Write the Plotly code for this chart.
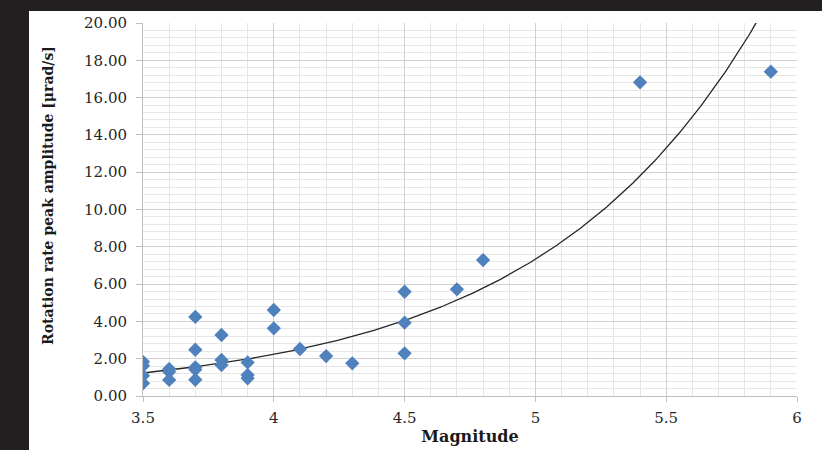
import numpy as np
import plotly.graph_objects as go

# Data
magnitude = [3.5, 3.5, 3.5, 3.5,
             3.6, 3.6, 3.6,
             3.7, 3.7, 3.7, 3.7, 3.7,
             3.8, 3.8, 3.8,
             3.9, 3.9, 3.9,
             4.0, 4.0,
             4.1, 4.2, 4.3,
             4.5, 4.5, 4.5,
             4.7, 4.8, 5.4, 5.9]
amplitude = [1.83, 1.62, 1.09, 0.68,
             1.45, 1.30, 0.86,
             4.24, 2.48, 1.54, 1.42, 0.87,
             3.27, 1.93, 1.66,
             1.80, 1.13, 0.95,
             4.61, 3.63,
             2.52, 2.14, 1.75,
             5.59, 3.93, 2.29,
             5.72, 7.29, 16.82, 17.39]

x_ticks = [3.5, 4, 4.5, 5, 5.5, 6]
x_tick_labels = ["3.5", "4", "4.5", "5", "5.5", "6"]
y_ticks = [0, 2, 4, 6, 8, 10, 12, 14, 16, 18, 20]
y_tick_labels = ["%.2f" % v for v in y_ticks]
y_title = "Rotation rate peak amplitude [μrad/s]"
x_title = "Magnitude"

# Exponential trendline (least squares on log values, like a spreadsheet trendline)
b, ln_a = np.polyfit(np.array(magnitude), np.log(np.array(amplitude)), 1)
xs = np.linspace(3.5, 6.0, 300)
ys = np.exp(ln_a) * np.exp(b * xs)

fig = go.Figure()
fig.add_trace(go.Scatter(x=xs, y=ys, mode="lines",
                         line=dict(color="#262626", width=1.3),
                         hoverinfo="skip", showlegend=False))
fig.add_trace(go.Scatter(x=magnitude, y=amplitude, mode="markers",
                         marker=dict(symbol="diamond", size=11, color="#4f81bd"),
                         showlegend=False))

L, R, T, B = 143, 797, 23, 396
W, H = 822, 450
def px(v):
    return (v - L) / (R - L)
def py(v):
    return (B - v) / (B - T)

fig.add_shape(type="rect", xref="paper", yref="paper", layer="below",
              x0=px(29), x1=px(830), y0=py(460), y1=py(11),
              fillcolor="white", line=dict(width=0))

font_family = "DejaVu Serif"
fig.add_annotation(xref="paper", yref="paper", x=px(48), y=py(196),
                   text="<b>%s</b>" % y_title, textangle=-90, showarrow=False,
                   xanchor="center", yanchor="middle",
                   font=dict(family=font_family, size=14, color="#1a1a1a"))

fig.update_layout(
    width=W, height=H,
    margin=dict(l=L, r=W - R, t=T, b=H - B, autoexpand=False),
    paper_bgcolor="#231f20",
    plot_bgcolor="white",
    showlegend=False,
    font=dict(family=font_family, size=15, color="#262626"),
)
fig.update_xaxes(
    range=[3.5, 6], tickvals=x_ticks, ticktext=x_tick_labels,
    automargin=False,
    showgrid=True, gridcolor="#d0d0d0", gridwidth=1,
    minor=dict(dtick=0.1, showgrid=True, gridcolor="#e6e6e6", gridwidth=1),
    showline=True, linecolor="#bfbfbf", linewidth=1,
    ticks="outside", ticklen=5, tickcolor="#bfbfbf",
    ticklabelstandoff=3,
    zeroline=False,
    tickfont=dict(family=font_family, size=15, color="#262626"),
    title=dict(text="<b>%s</b>" % x_title, standoff=4,
               font=dict(family=font_family, size=16, color="#1a1a1a")),
)
fig.update_yaxes(
    range=[0, 20], tickvals=y_ticks, ticktext=y_tick_labels,
    automargin=False,
    showgrid=True, gridcolor="#d0d0d0", gridwidth=1,
    minor=dict(dtick=0.4, showgrid=True, gridcolor="#e6e6e6", gridwidth=1),
    showline=True, linecolor="#bfbfbf", linewidth=1,
    ticks="outside", ticklen=6, tickcolor="#bfbfbf",
    ticklabelstandoff=6,
    zeroline=False,
    tickfont=dict(family=font_family, size=15, color="#262626"),
)

fig.write_html(
    "out.html",
    config={"displayModeBar": False},
    post_script="document.body.style.margin='0';"
                "document.body.style.background='#231f20';"
                "document.body.style.overflow='hidden';",
)
